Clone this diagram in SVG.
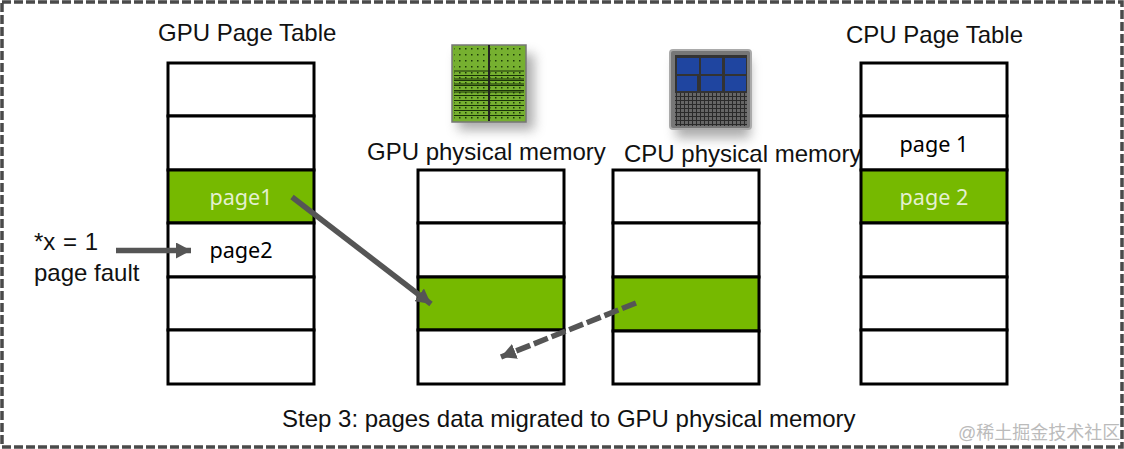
<svg xmlns="http://www.w3.org/2000/svg" width="1124" height="449" viewBox="0 0 1124 449">
<style>
.lbl{font-family:"Liberation Sans",Arial,sans-serif;font-size:24px;fill:#111}
.pg{font-family:"Noto Sans",sans-serif;font-size:21.600px;text-anchor:middle}
.cell{fill:#fff;stroke:#000;stroke-width:3}
.on{fill:#76b900;stroke:#000;stroke-width:3}
.arrow{fill:none;stroke:#555;stroke-width:5.500}
</style>
<defs>
<marker id="ah" markerUnits="userSpaceOnUse" markerWidth="16" markerHeight="16" refX="15" refY="8" orient="auto"><path d="M0 0L15 8L0 16z" fill="#555"/></marker>
<pattern id="gd" width="6" height="6" patternUnits="userSpaceOnUse"><rect x="3" y="0" width="1.500" height="1.500" fill="#1c3a08"/></pattern>
<pattern id="gl" width="6" height="5" patternUnits="userSpaceOnUse"><path d="M0 .5H6" stroke="#1a3208" stroke-width="1"/><rect x="3" y="2" width="1.500" height="1.500" fill="#1c3a08"/></pattern>
<pattern id="cl" width="4" height="4" patternUnits="userSpaceOnUse"><rect width="4" height="4" fill="#666"/><path d="M0 .5H4M.5 0V4" stroke="#2a2a2a" stroke-width="1"/></pattern>
<filter id="sh" x="-30%" y="-30%" width="160%" height="160%"><feGaussianBlur stdDeviation="6"/></filter>
</defs>
<rect x="2" y="2" width="1120" height="445" fill="#fff" stroke="#4a4a4a" stroke-width="3.500" stroke-dasharray="9 3"/>
<g id="gpu-table">
<rect class="cell" x="168" y="63" width="146" height="53"/><rect class="cell" x="168" y="116" width="146" height="54"/><rect class="on" x="168" y="170" width="146" height="53"/><rect class="cell" x="168" y="223" width="146" height="54"/><rect class="cell" x="168" y="277" width="146" height="53"/><rect class="cell" x="168" y="330" width="146" height="54"/>
<text class="lbl" x="158" y="41">GPU Page Table</text>
<text class="pg" x="241" y="205" fill="#e4f0d0">page1</text>
<text class="pg" x="241" y="258" fill="#000">page2</text>
</g>
<g id="gpu-memory">
<rect class="cell" x="418" y="170" width="146" height="53"/><rect class="cell" x="418" y="223" width="146" height="54"/><rect class="on" x="418" y="277" width="146" height="53"/><rect class="cell" x="418" y="330" width="146" height="54"/>
<text class="lbl" x="367" y="160">GPU physical memory</text>
</g>
<g id="cpu-memory">
<rect class="cell" x="613" y="170" width="146" height="53"/><rect class="cell" x="613" y="223" width="146" height="54"/><rect class="on" x="613" y="277" width="146" height="54"/><rect class="cell" x="613" y="331" width="146" height="53"/>
<text class="lbl" x="624" y="162">CPU physical memory</text>
</g>
<g id="cpu-table">
<rect class="cell" x="861" y="63" width="146" height="53"/><rect class="cell" x="861" y="116" width="146" height="54"/><rect class="on" x="861" y="170" width="146" height="53"/><rect class="cell" x="861" y="223" width="146" height="54"/><rect class="cell" x="861" y="277" width="146" height="53"/><rect class="cell" x="861" y="330" width="146" height="54"/>
<text class="lbl" x="846" y="43">CPU Page Table</text>
<text class="pg" x="934" y="152" fill="#000">page 1</text>
<text class="pg" x="934" y="205" fill="#e4f0d0">page 2</text>
</g>
<g id="gpu-chip">
<rect x="458" y="54" width="76" height="76" fill="#888" opacity=".7" filter="url(#sh)"/>
<rect x="452" y="45" width="74" height="77" fill="#76b030" stroke="#777" stroke-width="1.500"/>
<rect x="454" y="47" width="70" height="24" fill="url(#gd)"/>
<rect x="454" y="71" width="70" height="49" fill="url(#gl)"/>
<path d="M454 71H524M454 79H524M454 84H524M454 92H524" stroke="#1a3208" stroke-width="1.200"/>
<path d="M489 45V121" stroke="#222" stroke-width="2"/>
</g>
<g id="cpu-chip">
<rect x="676" y="60" width="74" height="78" fill="#888" opacity=".7" filter="url(#sh)"/>
<rect x="670" y="50" width="81" height="79" rx="3" fill="#777" stroke="#aaa" stroke-width="2"/>
<rect x="675" y="55" width="72" height="71" fill="#333"/>
<g fill="#1f45a0"><rect x="677" y="58" width="22" height="16"/><rect x="701" y="58" width="21" height="16"/><rect x="725" y="58" width="21" height="16"/><rect x="677" y="76" width="20" height="15"/><rect x="701" y="76" width="21" height="15"/><rect x="725" y="76" width="21" height="15"/></g>
<rect x="675" y="93" width="72" height="33" fill="url(#cl)"/>
</g>
<g id="fault-label">
<text class="lbl" x="34" y="250" word-spacing="1">*x = 1</text>
<text class="lbl" x="34" y="281">page fault</text>
</g>
<g id="connectors">
<path class="arrow" d="M116 250.500H191" marker-end="url(#ah)"/>
<path class="arrow" d="M292 197L431 304" marker-end="url(#ah)"/>
<path class="arrow" d="M636 303L501 357" stroke-dasharray="15 4" marker-end="url(#ah)"/>
</g>
<text class="lbl" x="282" y="427">Step 3: pages data migrated to GPU physical memory</text>
<text x="958" y="439" font-family="'Liberation Sans','Noto Sans CJK SC',sans-serif" font-size="18" fill="#bbb">@稀土掘金技术社区</text>
</svg>
